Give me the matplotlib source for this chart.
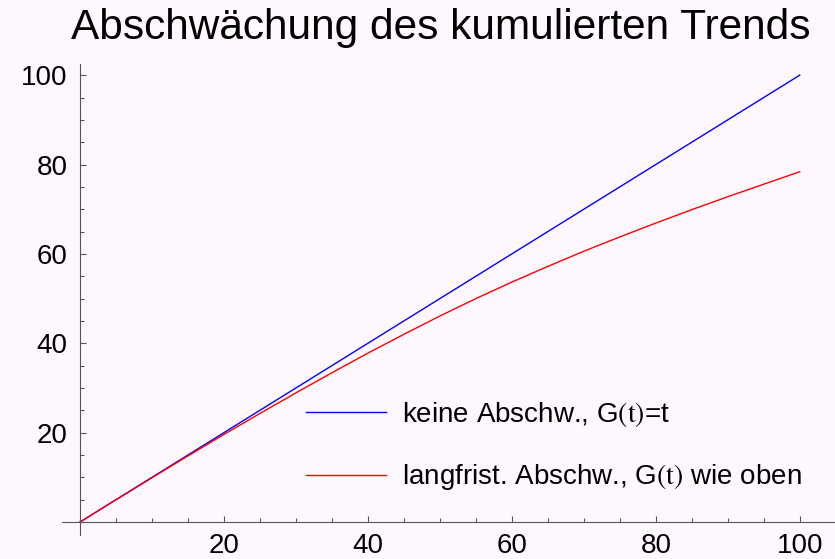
import matplotlib
matplotlib.use("Agg")
import matplotlib.pyplot as plt
from matplotlib.ticker import MultipleLocator, FixedLocator

plt.rcParams['font.family'] = ['Liberation Sans', 'DejaVu Sans']
plt.rcParams['mathtext.fontset'] = 'stix'

# data
t_values = [0, 5, 10, 15, 20, 25, 30, 35, 40, 45, 50, 55, 60, 65, 70, 75, 80, 85, 90, 95, 100]
blue_values = [0, 5, 10, 15, 20, 25, 30, 35, 40, 45, 50, 55, 60, 65, 70, 75, 80, 85, 90, 95, 100]
red_values = [0, 4.98, 9.9, 14.8, 19.6, 24.3, 28.9, 33.4, 37.8, 42.0, 46.1, 50.0, 53.7,
              57.2, 60.6, 63.8, 66.9, 69.9, 72.8, 75.6, 78.4]
x_ticks = [20, 40, 60, 80, 100]
y_ticks = [20, 40, 60, 80, 100]
title = "Abschwächung des kumulierten Trends"
label_blue = r"keine Abschw., G$\mathrm{(t)}$=t"
label_red = r"langfrist. Abschw., G$\mathrm{(t)}$ wie oben"

bg = '#fef8fe'
fig = plt.figure(figsize=(8.35, 5.59), dpi=100, facecolor=bg)
ax = fig.add_axes([62/835, (559-535)/559, (835-62)/835, (535-64)/559])
ax.set_facecolor(bg)

ax.plot(t_values, blue_values, color='#0000ff', lw=1.0, label=label_blue)
ax.plot(t_values, red_values, color='#ff0000', lw=1.0, label=label_red)

ax.set_xlim(-2.5, 104.9)
ax.set_ylim(-2.9, 102.5)

for s in ['top', 'right']:
    ax.spines[s].set_visible(False)
for s in ['left', 'bottom']:
    ax.spines[s].set_position(('data', 0))
    ax.spines[s].set_color('#555555')
    ax.spines[s].set_linewidth(0.8)
ax.spines['left'].set_bounds(-2.9, 102.5)
ax.spines['bottom'].set_bounds(-2.5, 104.9)

ax.xaxis.set_major_locator(FixedLocator(x_ticks))
ax.yaxis.set_major_locator(FixedLocator(y_ticks))
ax.xaxis.set_minor_locator(MultipleLocator(5))
ax.yaxis.set_minor_locator(MultipleLocator(5))
ax.tick_params(which='major', direction='in', length=4, width=0.8, color='#555555',
               labelsize=20, pad=8)
ax.tick_params(which='minor', direction='in', length=2.8, width=0.8, color='#555555')
ax.tick_params(axis='y', which='major', pad=9)

fig.text(441/835, 1-39/559, title, ha='center', va='baseline', fontsize=30.5)

ax.legend(loc='upper left', bbox_to_anchor=((306-62)/773, (535-400)/471),
          frameon=False, fontsize=20, handlelength=2.88, handletextpad=0.58,
          labelspacing=1.2, borderpad=0, borderaxespad=0)

fig.savefig('out.png', dpi=100, facecolor=bg)
